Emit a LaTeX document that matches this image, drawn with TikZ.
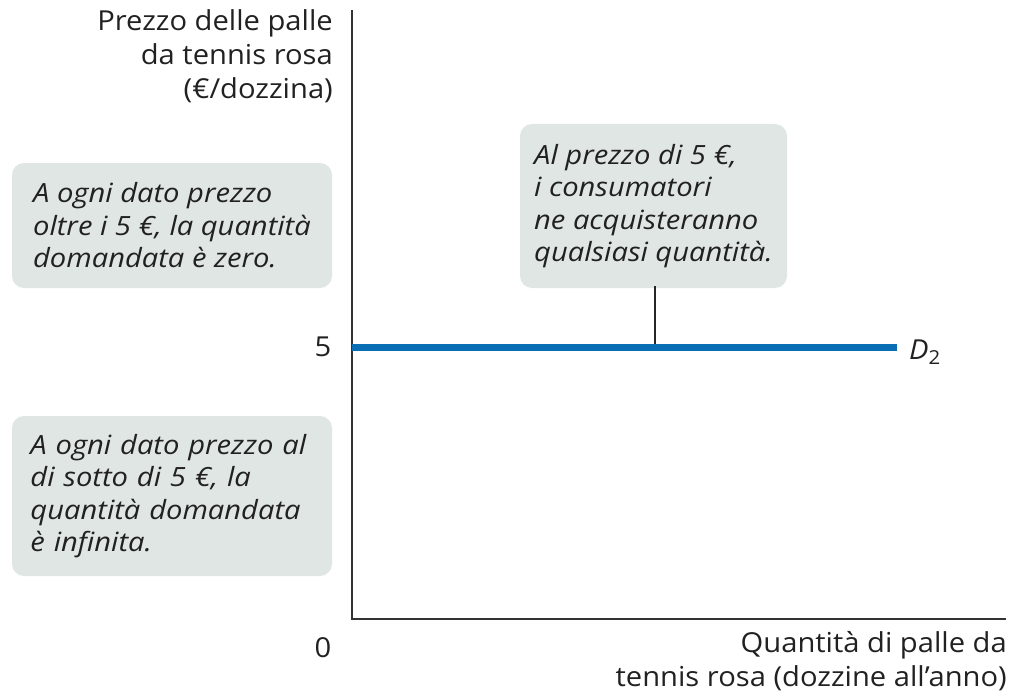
\documentclass[tikz,border=0pt]{standalone}
\usepackage{fontspec}
\setmainfont{Open Sans}[FakeStretch=1.06]
\newfontfamily\notefont{Open Sans}[FakeStretch=1.1]
\begin{document}
\begin{tikzpicture}[x=1pt,y=-1pt,
  txt/.style={text=black!87, inner sep=0pt},
  lab/.style={txt, font=\fontsize{27.5}{34}\selectfont},
  note/.style={fill=notefill, rounded corners=12pt, inner sep=0pt, align=left,
     text=black!87, font=\notefont\itshape\fontsize{26.5}{32.5}\selectfont},
  axis/.style={line width=1.6pt, draw=black!80}]
\definecolor{notefill}{HTML}{E0E6E3}
\definecolor{demand}{HTML}{0A6EB4}
\useasboundingbox (0,0) rectangle (1031,695);
% axes
\coordinate (top) at (352,10);
\coordinate (origin) at (352,619);
\coordinate (right) at (1006,619);
\draw[axis] (top) -- (origin) -- (right);
% labels
\node[lab, anchor=east, align=right] (ylab) at (333,56)
  {Prezzo delle palle\\da tennis rosa\\(€/dozzina)};
\node[lab, anchor=east, align=right] (xlab) at (1007,661)
  {Quantità di palle da\\tennis rosa (dozzine all’anno)};
\node[lab, anchor=center] (zero) at (323,648) {0};
\node[lab, anchor=center] (five) at (323,347) {5};
% demand line
\coordinate (d0) at (352,347);
\coordinate (d1) at (897,347);
\draw[demand, line width=7pt] (d0) -- (d1);
\node[lab, anchor=west] (dlab) at (909,352) {\textit{D}\textsubscript{2}};
% notes
\node[note, minimum width=320pt, minimum height=125pt] (n1) at (172,225.5)
  {A ogni dato prezzo\\oltre i 5 €, la quantità\\domandata è zero.};
\node[note, minimum width=267pt, minimum height=164pt] (n2) at (653.5,206)
  {Al prezzo di 5 €,\\i consumatori\\ne acquisteranno\\qualsiasi quantità.};
\node[note, minimum width=320pt, minimum height=160pt, text width=283pt] (n3) at (172,496)
  {A ogni dato prezzo al\\di sotto di 5 €, la\\quantità domandata\\è infinita.};
% connector
\coordinate (pt) at (655,344);
\draw[line width=1.5pt, black!85] ([yshift=2pt]n2.south -| pt) -- (pt);
\end{tikzpicture}
\end{document}
